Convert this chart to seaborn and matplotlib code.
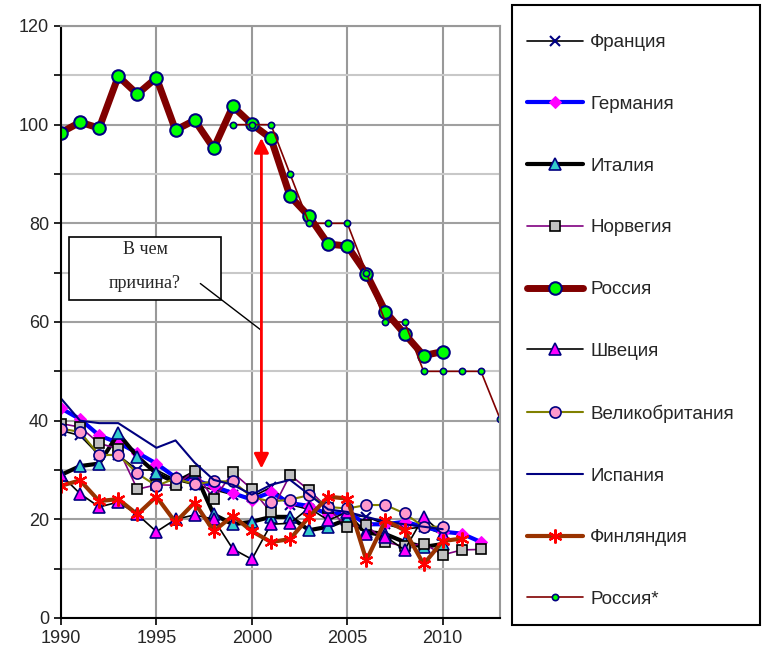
import matplotlib
matplotlib.use("Agg")
import matplotlib.pyplot as plt
from matplotlib.ticker import MultipleLocator
from matplotlib.patches import Rectangle
import seaborn as sns

sns.set_theme(style="white")
plt.rcParams["font.family"] = ["Liberation Sans", "DejaVu Sans"]

# data
years_france = list(range(1990, 2011))
france = [38, 37, 33, 33, 30, 30, 28, 27, 26, 25, 24.5, 26.5, 23, 22, 21.5, 21, 20.5, 19, 18, 18.5, 17]

years_germany = list(range(1990, 2013))
germany = [42.5, 40.3, 37, 35.5, 33.5, 31.3, 28.5, 28, 26.7, 25.3, 24, 25.5, 23.3, 22.7, 21, 21.5,
           19, 19, 19.5, 18.5, 17.5, 17.1, 15.4]

years_italy = list(range(1990, 2011))
italy = [29, 30.8, 31.3, 37.4, 32.7, 29.3, 27.5, 29.5, 21, 19, 19.5, 20.5, 20.5, 17.8, 18.5, 20,
         17.5, 17, 15.4, 14.4, 15]

years_norway = list(range(1990, 2013))
norway = [39.4, 38.7, 35.4, 34.3, 26.1, 27, 26.9, 29.8, 24.1, 29.5, 26.1, 21.4, 29.0, 25.9, 22.2,
          18.5, 18.8, 15.4, 14.5, 15.1, 12.8, 13.8, 13.9]

years_russia = list(range(1990, 2011))
russia = [98.4, 100.5, 99.3, 109.8, 106.2, 109.5, 98.9, 100.9, 95.2, 103.7, 100.1, 97.2, 85.5, 81.4,
          75.8, 75.4, 69.8, 62.1, 57.6, 53.2, 54.0]

years_sweden = list(range(1990, 2011))
sweden = [29, 25.2, 22.5, 23.5, 21, 17.5, 20, 20.9, 20, 14.0, 11.9, 19.0, 19.2, 22.3, 19.8, 21.5,
          17.1, 16.5, 13.8, 20.5, 17]

years_uk = list(range(1990, 2011))
uk = [38.4, 37.7, 33, 33.1, 29.3, 26.8, 28.3, 27.1, 27.7, 27.7, 24.5, 23.6, 24.0, 24.9, 22.5, 22.2,
      22.9, 22.9, 21.2, 18.5, 18.5]

years_spain = list(range(1990, 2011))
spain = [44.5, 40, 39.5, 39.5, 37, 34.5, 36, 31.5, 28, 27, 25, 27, 28, 25, 22, 21.5, 20.5, 19.5,
         19, 18.5, 18]

years_finland = list(range(1990, 2012))
finland = [26.8, 27.9, 23.7, 24.1, 21.0, 24.6, 19.4, 23.4, 17.6, 20.7, 17.6, 15.4, 16.0, 20.5, 24.6,
           24.2, 11.7, 19.8, 17.8, 10.9, 15.6, 16.1]

years_russia2 = list(range(1999, 2014))
russia2 = [100, 100, 100, 90, 80, 80, 80, 70, 60, 60, 50, 50, 50, 50, 40.4]

series = [
    ("Франция", years_france, france,
     dict(color="black", lw=1.2, marker="x", ms=7, mec="#000080", mew=1.5)),
    ("Германия", years_germany, germany,
     dict(color="#0000FF", lw=3, marker="D", ms=6.5, mfc="#FF00FF", mec="#FF00FF")),
    ("Италия", years_italy, italy,
     dict(color="black", lw=3, marker="^", ms=8, mfc="#33CCCC", mec="#000080", mew=1.2)),
    ("Норвегия", years_norway, norway,
     dict(color="#800080", lw=1.2, marker="s", ms=7.5, mfc="#C0C0C0", mec="black", mew=1.2)),
    ("Россия", years_russia, russia,
     dict(color="#800000", lw=5, marker="o", ms=9, mfc="#00FF00", mec="#000080", mew=1.5)),
    ("Швеция", years_sweden, sweden,
     dict(color="black", lw=1.2, marker="^", ms=8, mfc="#FF00FF", mec="#000080", mew=1.2)),
    ("Великобритания", years_uk, uk,
     dict(color="#808000", lw=1.5, marker="o", ms=8, mfc="#FF99CC", mec="#000080", mew=1.2)),
    ("Испания", years_spain, spain,
     dict(color="#000080", lw=1.5)),
    ("Финляндия", years_finland, finland,
     dict(color="#993300", lw=3, marker=(6, 2, 0), ms=10, mec="#FF0000", mfc="#FF0000", mew=1.6)),
    ("Россия*", years_russia2, russia2,
     dict(color="#800000", lw=1.2, marker="o", ms=4.5, mfc="#00FF00", mec="#000080", mew=1.2)),
]

fig = plt.figure(figsize=(7.63, 6.53), dpi=100)
ax = fig.add_axes([61 / 763, 1 - 618 / 653, (500 - 61) / 763, (618 - 26) / 653])

for name, xs, ys, kw in series:
    sns.lineplot(x=xs, y=ys, ax=ax, label=name, **kw)

ax.set_xlim(1990, 2013)
ax.set_ylim(0, 120)
ax.xaxis.set_major_locator(MultipleLocator(5))
ax.yaxis.set_major_locator(MultipleLocator(20))
ax.yaxis.set_minor_locator(MultipleLocator(10))
ax.grid(axis="x", which="major", color="#999999", lw=1.5)
ax.grid(axis="y", which="major", color="#a0a0a0", lw=1.5)
ax.grid(axis="y", which="minor", color="#c8c8c8", lw=1.5)
ax.set_axisbelow(True)
for s in ["left", "bottom"]:
    ax.spines[s].set_color("black")
    ax.spines[s].set_linewidth(1.5)
for s in ["top", "right"]:
    ax.spines[s].set_color("#999999")
    ax.spines[s].set_linewidth(1.5)
ax.tick_params(axis="both", which="both", direction="out", length=5, width=1.2, color="black",
               labelsize=13, left=True, bottom=True)
ax.tick_params(axis="y", which="minor", length=5)
ax.set_xlabel(""); ax.set_ylabel("")

# annotation: question box, callout line and red double arrow
ax.add_patch(Rectangle((1990.4, 64.4), 8.0, 12.9, fc="white", ec="black", lw=1.2, zorder=20))
ax.text(1994.4, 74.7, "В чем", ha="center", va="center", fontsize=13,
        family=["Liberation Serif", "DejaVu Serif"], zorder=21)
ax.text(1994.4, 67.8, "причина?", ha="center", va="center", fontsize=13,
        family=["Liberation Serif", "DejaVu Serif"], zorder=21)
ax.plot([1997.3, 2000.5], [67.8, 58.3], color="black", lw=1, zorder=21)
ax.annotate("", xy=(2000.5, 97.3), xytext=(2000.5, 30.3),
            arrowprops=dict(arrowstyle="<|-|>", color="red", lw=2, mutation_scale=22,
                            shrinkA=0, shrinkB=0), zorder=22)

handles, labels = ax.get_legend_handles_labels()
if ax.get_legend() is not None:
    ax.get_legend().remove()

# legend frame drawn separately so the inner padding can match the reference
fig.patches.append(Rectangle((512 / 763, 1 - 625 / 653), 248 / 763, 620 / 653,
                             transform=fig.transFigure, fc="white", ec="black", lw=1.5, zorder=0))
leg = fig.legend(handles, labels, loc="upper left",
                 bbox_to_anchor=(527 / 763, 1 - 34 / 653),
                 fontsize=13.5, frameon=False,
                 labelspacing=2.38, handlelength=3.0, handletextpad=0.37, borderpad=0,
                 borderaxespad=0, numpoints=1)

fig.savefig("out.png", dpi=100)
